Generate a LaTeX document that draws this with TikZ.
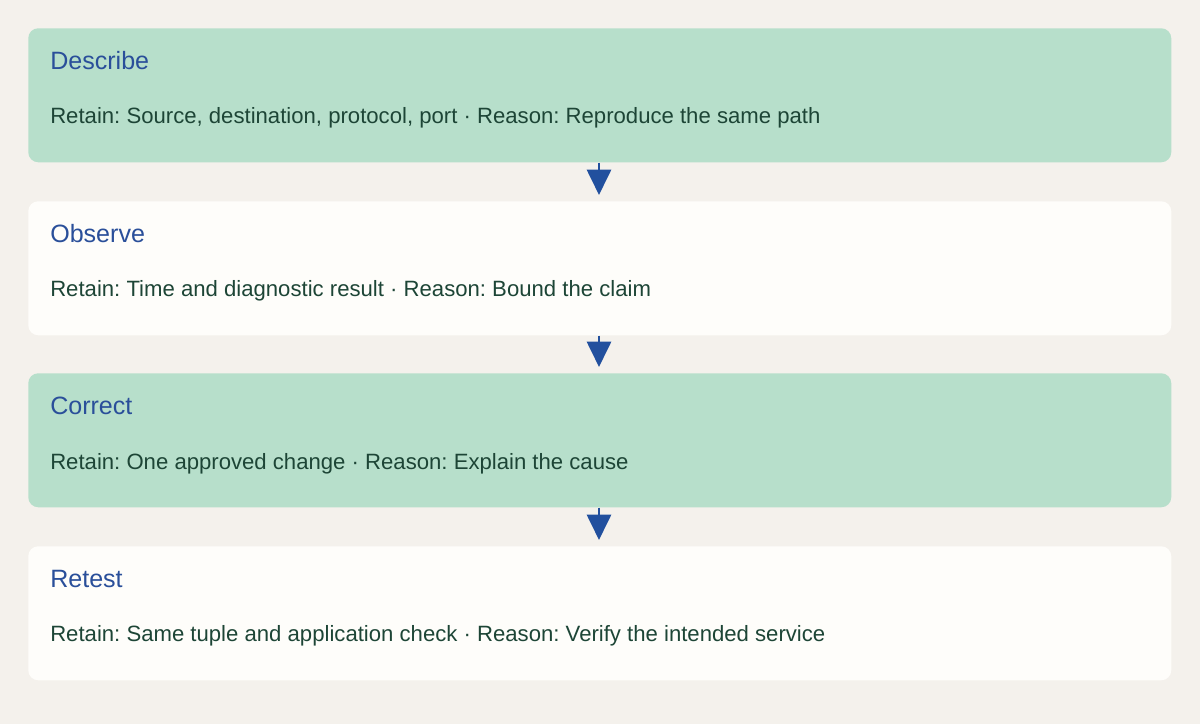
\documentclass[tikz,border=0pt]{standalone}
\usepackage{fontspec}
\setmainfont{Liberation Sans}
\usetikzlibrary{arrows.meta}
\definecolor{bg}{HTML}{F4F1EC}
\definecolor{gbox}{HTML}{B7DFCB}
\definecolor{wbox}{HTML}{FEFDFA}
\definecolor{ttl}{HTML}{2A4F9A}
\definecolor{txt}{HTML}{1D4536}
\definecolor{arr}{HTML}{22509E}
\begin{document}
\frenchspacing
\begin{tikzpicture}[x=0.75pt,y=-0.75pt,
 box/.style={rounded corners=7.5pt,draw=none,minimum width=857.25pt,minimum height=100.5pt,inner sep=0,anchor=north west},
 title/.style={anchor=west,text=ttl,font=\fontsize{18.8}{22}\selectfont,inner sep=0},
 body/.style={anchor=west,text=txt,font=\fontsize{16.6}{19}\selectfont,inner sep=0},
 con/.style={arr,line width=2.2pt,-{Triangle[width=18pt,length=19pt]}}]
\fill[bg] (0,0) rectangle (1200,724);
\useasboundingbox (0,0) rectangle (1200,724);
\node[box,fill=gbox] (A) at (28,28) {};
\node[box,fill=wbox] (B) at (28,201) {};
\node[box,fill=gbox] (C) at (28,373) {};
\node[box,fill=wbox] (D) at (28,546) {};
\node[title] (t1) at (50,61) {Describe};
\node[body] (b1) at (50,118) {Retain: Source, destination, protocol, port · Reason: Reproduce the same path};
\node[title] (t2) at (50,234) {Observe};
\node[body] (b2) at (50,291) {Retain: Time and diagnostic result · Reason: Bound the claim};
\node[title] (t3) at (50,406) {Correct};
\node[body] (b3) at (50,464) {Retain: One approved change · Reason: Explain the cause};
\node[title] (t4) at (50,579) {Retest};
\node[body] (b4) at (50,636) {Retain: Same tuple and application check · Reason: Verify the intended service};
\coordinate (e1) at (599,195);
\coordinate (e2) at (599,367);
\coordinate (e3) at (599,540);
\draw[con] (A.south -| e1) -- (e1);
\draw[con] (B.south -| e2) -- (e2);
\draw[con] (C.south -| e3) -- (e3);
\end{tikzpicture}
\end{document}
